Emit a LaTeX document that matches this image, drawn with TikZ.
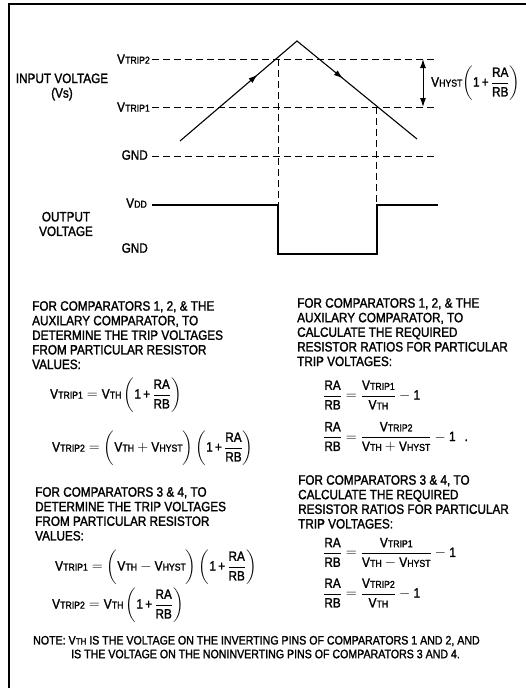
\documentclass[tikz,border=0pt]{standalone}
\usepackage{amsmath}
\usepackage{graphicx}
\usepackage{fontspec}
\setmainfont{Liberation Sans}[FakeStretch=0.87,FakeBold=1.6]
\usetikzlibrary{arrows.meta,decorations.markings}
\newcommand\Vx[1]{V\kern0.2pt\scalebox{0.74}{#1}}
\newcommand\Mb[1]{\mbox{#1}}
\newcommand\RR{\dfrac{\Mb{RA}}{\Mb{RB}}}
\newcommand\Op{\Mb{1\,+\,}}
\tikzset{
  body/.style={font=\fontsize{13.5}{14.6}\selectfont, inner sep=0pt, align=left},
  lbl/.style={font=\fontsize{13.5}{14.6}\selectfont, inner sep=0pt, align=center},
  eqn/.style={font=\fontsize{13.5}{14.6}\selectfont, inner sep=0pt},
  notetext/.style={font=\fontsize{12.2}{12.6}\selectfont, inner sep=0pt},
  dashln/.style={line width=1pt, dash pattern=on 7pt off 4pt},
  wave/.style={line width=1.1pt},
  frameln/.style={line width=2pt},
}
\begin{document}
\begin{tikzpicture}[x=1pt,y=-1pt]
\useasboundingbox (0,0) rectangle (526,688);
% frame
\coordinate (fbl) at (9,688);
\coordinate (ftl) at (9,4);
\coordinate (ftr) at (526,4);
\draw[frameln] (fbl) -- (ftl) -- (ftr);

% levels
\coordinate (t2l) at (152,59);  \coordinate (t2r) at (437,59);
\coordinate (t1l) at (152,107); \coordinate (t1r) at (437,107);
\coordinate (gl) at (152,156);  \coordinate (gr) at (437,156);
\draw[dashln] (t2l) -- (t2r);
\draw[dashln] (t1l) -- (t1r);
\draw[dashln] (gl) -- (gr);

% triangle input
\coordinate (rs) at (180,141);
\coordinate (pk) at (297,41);
\coordinate (fe) at (417,139);
\draw[wave, line join=miter, postaction={decorate},
  decoration={markings,
    mark=at position 0.33 with {\arrow{Latex[length=9pt,width=6pt]}},
    mark=at position 0.69 with {\arrow{Latex[length=9pt,width=6pt]}}}]
  (rs) -- (pk) -- (fe);

% vertical dashed
\coordinate (v1t) at (278,59);  \coordinate (v1b) at (278,205);
\coordinate (v2t) at (376,107); \coordinate (v2b) at (376,205);
\draw[dashln] (v1t) -- (v1b);
\draw[dashln] (v2t) -- (v2b);

% output
\coordinate (o1) at (152,205);
\coordinate (o2) at (278,205);
\coordinate (o3) at (278,254);
\coordinate (o4) at (377,254);
\coordinate (o5) at (377,205);
\coordinate (o6) at (438,205);
\draw[wave] (o1) -- (o2) -- (o3) -- (o4) -- (o5) -- (o6);

% hysteresis arrow
\coordinate (ha) at (423,59);
\coordinate (hb) at (423,107);
\draw[line width=1pt, {Latex[length=9pt,width=6pt]}-{Latex[length=9pt,width=6pt]}] (ha) -- (hb);
\node[eqn, anchor=west] (hyst) at (431,83) {$\Mb{\Vx{HYST}}\!\left(\Op\RR\right)$};

% labels
\node[lbl, anchor=east] (ltrip2) at (150,59) {\Vx{TRIP2}};
\node[lbl, anchor=east] (ltrip1) at (150,107) {\Vx{TRIP1}};
\node[lbl, anchor=east] (lgnd1) at (148,155) {GND};
\node[lbl, anchor=east] (lvdd) at (147,203) {\Vx{DD}};
\node[lbl, anchor=east] (lgnd2) at (148,248) {GND};
\node[lbl] (linput) at (62,87) {INPUT VOLTAGE\\(Vs)};
\node[lbl] (loutput) at (66,224) {OUTPUT\\VOLTAGE};

% left column
\node[body, anchor=north west] (p1) at (32,301) {FOR COMPARATORS 1, 2, \& THE\\AUXILARY COMPARATOR, TO\\DETERMINE THE TRIP VOLTAGES\\FROM PARTICULAR RESISTOR\\VALUES:};
\node[eqn, anchor=west] (e1) at (50,395) {$\Mb{\Vx{TRIP1}} = \Mb{\Vx{TH}}\left(\Op\RR\right)$};
\node[eqn, anchor=west] (e2) at (52,448) {$\Mb{\Vx{TRIP2}} = \left(\vphantom{\RR}\Mb{\Vx{TH}} + \Mb{\Vx{HYST}}\right)\left(\Op\RR\right)$};
\node[body, anchor=north west] (p2) at (35,487) {FOR COMPARATORS 3 \& 4, TO\\DETERMINE THE TRIP VOLTAGES\\FROM PARTICULAR RESISTOR\\VALUES:};
\node[eqn, anchor=west] (e3) at (55,567) {$\Mb{\Vx{TRIP1}} = \left(\vphantom{\RR}\Mb{\Vx{TH}} - \Mb{\Vx{HYST}}\right)\left(\Op\RR\right)$};
\node[eqn, anchor=west] (e4) at (52,605) {$\Mb{\Vx{TRIP2}} = \Mb{\Vx{TH}}\left(\Op\RR\right)$};

% right column
\node[body, anchor=north west] (p3) at (297,298) {FOR COMPARATORS 1, 2, \& THE\\AUXILARY COMPARATOR, TO\\CALCULATE THE REQUIRED\\RESISTOR RATIOS FOR PARTICULAR\\TRIP VOLTAGES:};
\node[eqn, anchor=west] (r1) at (323,395) {$\RR = \dfrac{\Mb{\Vx{TRIP1}}}{\Mb{\Vx{TH}}} - \Mb{1}$};
\node[eqn, anchor=west] (r2) at (323,437) {$\RR = \dfrac{\Mb{\Vx{TRIP2}}}{\Mb{\Vx{TH}} + \Mb{\Vx{HYST}}} - \Mb{1}$\hspace{9pt}.};
\node[body, anchor=north west] (p4) at (298,475) {FOR COMPARATORS 3 \& 4, TO\\CALCULATE THE REQUIRED\\RESISTOR RATIOS FOR PARTICULAR\\TRIP VOLTAGES:};
\node[eqn, anchor=west] (r3) at (323,553) {$\RR = \dfrac{\Mb{\Vx{TRIP1}}}{\Mb{\Vx{TH}} - \Mb{\Vx{HYST}}} - \Mb{1}$};
\node[eqn, anchor=west] (r4) at (323,593) {$\RR = \dfrac{\Mb{\Vx{TRIP2}}}{\Mb{\Vx{TH}}} - \Mb{1}$};

% note
\node[notetext, anchor=west] (n1) at (33,641) {NOTE: \Vx{TH} IS THE VOLTAGE ON THE INVERTING PINS OF COMPARATORS 1 AND 2, AND};
\node[notetext, anchor=west] (n2) at (71,654) {IS THE VOLTAGE ON THE NONINVERTING PINS OF COMPARATORS 3 AND 4.};
\end{tikzpicture}
\end{document}
